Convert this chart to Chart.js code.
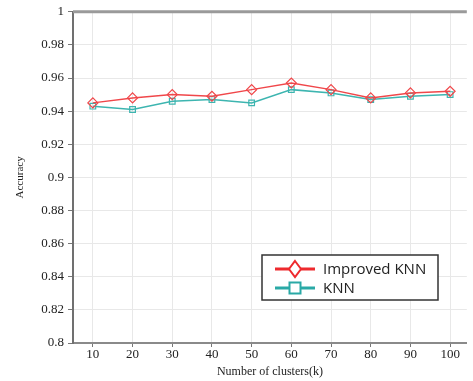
<!DOCTYPE html>
<html>
<head>
<meta charset="utf-8">
<script src="https://cdn.jsdelivr.net/npm/chart.js@4"></script>
<style>
  html, body { margin: 0; padding: 0; background: #fff; overflow: hidden; }
  #wrap { width: 473px; height: 381px; }
</style>
</head>
<body>
<div id="wrap"><canvas id="chart" width="473" height="381"></canvas></div>
<script>
const clusters = [10, 20, 30, 40, 50, 60, 70, 80, 90, 100]
const improvedKnn = [0.945, 0.948, 0.950, 0.949, 0.953, 0.957, 0.953, 0.948, 0.951, 0.952]
const knn = [0.943, 0.941, 0.946, 0.947, 0.945, 0.953, 0.951, 0.947, 0.949, 0.950]
const yTicks = [0.8, 0.82, 0.84, 0.86, 0.88, 0.9, 0.92, 0.94, 0.96, 0.98, 1]

const RED = '#f0474a'
const TEAL = '#3db5b0'
const serif = "'Liberation Serif', 'Times New Roman', serif"
Chart.defaults.font.family = serif

// top frame line + boxed legend with line/marker samples
const frame = {
    id: 'frame',
    afterDraw(chart) {
        const c = chart.ctx
        const a = chart.chartArea
        c.save()
        c.strokeStyle = '#9a9a9a'
        c.lineWidth = 3
        c.beginPath()
        c.moveTo(a.left, a.top)
        c.lineTo(a.right, a.top)
        c.stroke()

        const bx = 262, by = 255, bw = 176, bh = 45
        c.fillStyle = '#fff'
        c.fillRect(bx, by, bw, bh)
        c.strokeStyle = '#333'
        c.lineWidth = 1.5
        c.strokeRect(bx, by, bw, bh)

        const rows = [
            { text: 'Improved KNN', color: '#ee2a2e', y: 269, diamond: true },
            { text: 'KNN', color: '#2aa9a6', y: 288, diamond: false },
        ]
        c.font = "15px 'Open Sans', sans-serif"
        c.textBaseline = 'middle'
        rows.forEach(r => {
            c.strokeStyle = r.color
            c.lineWidth = 3
            c.beginPath()
            c.moveTo(275, r.y)
            c.lineTo(315, r.y)
            c.stroke()
            c.fillStyle = '#fff'
            c.lineWidth = 2
            c.beginPath()
            if (r.diamond) {
                c.moveTo(295, r.y - 8)
                c.lineTo(301, r.y)
                c.lineTo(295, r.y + 8)
                c.lineTo(289, r.y)
                c.closePath()
            } else {
                c.rect(289.5, r.y - 5.5, 11, 11)
            }
            c.fill()
            c.stroke()
            c.fillStyle = '#222'
            c.fillText(r.text, 323, r.y + 1)
        })
        c.restore()
    }
}

new Chart(document.getElementById('chart'), {
    type: 'line',
    data: {
        datasets: [{
            label: 'Improved KNN',
            data: clusters.map((k, i) => ({ x: k, y: improvedKnn[i] })),
            borderColor: RED,
            borderWidth: 1.5,
            pointStyle: 'rectRot',
            pointRadius: 5,
            pointBorderWidth: 1.2,
            pointBackgroundColor: 'rgba(255,255,255,0)',
            pointBorderColor: RED,
        }, {
            label: 'KNN',
            data: clusters.map((k, i) => ({ x: k, y: knn[i] })),
            borderColor: TEAL,
            borderWidth: 1.5,
            pointStyle: 'rect',
            pointRadius: 4,
            pointBorderWidth: 1.2,
            pointBackgroundColor: 'rgba(255,255,255,0)',
            pointBorderColor: TEAL,
        }]
    },
    options: {
        responsive: false,
        animation: false,
        layout: { padding: { top: 10, right: 0, left: 0, bottom: 0 } },
        plugins: {
            legend: { display: false },
            tooltip: { enabled: false },
        },
        scales: {
            x: {
                type: 'linear',
                min: 5,
                max: 104.2,
                afterBuildTicks: s => { s.ticks = clusters.map(v => ({ value: v })) },
                afterFit: s => { s.height = 38 },
                grid: { color: '#e8e8e8', lineWidth: 1, tickLength: 4, tickColor: '#777' },
                border: { color: '#8a8a8a', width: 2 },
                ticks: { color: '#222', font: { family: serif, size: 13 }, padding: 0, maxRotation: 0 },
                title: {
                    display: true,
                    text: 'Number of clusters(k)',
                    color: '#222',
                    font: { family: serif, size: 12 },
                    padding: { top: 0, bottom: 2 },
                },
            },
            y: {
                min: 0.8,
                max: 1,
                afterBuildTicks: s => { s.ticks = yTicks.map(v => ({ value: v })) },
                afterFit: s => { s.width = 73 },
                grid: { color: '#e8e8e8', lineWidth: 1, tickLength: 5, tickColor: '#777' },
                border: { color: '#707070', width: 2 },
                ticks: {
                    color: '#222',
                    font: { family: serif, size: 13 },
                    padding: 4,
                    callback: v => String(Math.round(v * 100) / 100),
                },
                title: {
                    display: true,
                    text: 'Accuracy',
                    color: '#222',
                    font: { family: serif, size: 11 },
                    padding: { top: 14, bottom: 4 },
                },
            },
        },
    },
    plugins: [frame],
})
</script>
</body>
</html>
